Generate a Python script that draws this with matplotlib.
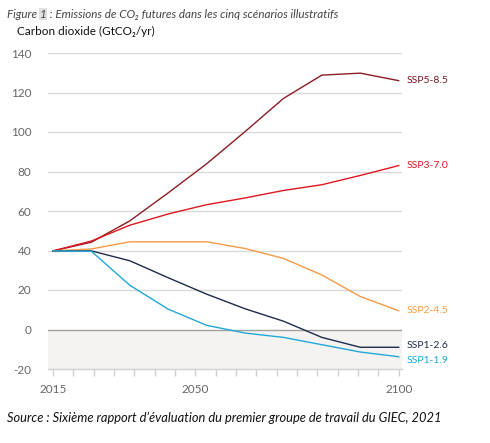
import matplotlib
matplotlib.use("Agg")
import matplotlib.pyplot as plt
import numpy as np

plt.rcParams['font.family'] = ['Lato', 'DejaVu Sans']

# ---- data ----
years = [2015, 2020, 2030, 2040, 2050, 2060, 2070, 2080, 2090, 2100]
ssp585 = [39.8, 44.2, 55.0, 69.2, 83.9, 100.2, 117.0, 128.8, 129.8, 126.0]
ssp370 = [39.8, 44.8, 52.8, 58.5, 63.2, 66.6, 70.4, 73.3, 78.0, 83.0]
ssp245 = [39.8, 40.8, 44.4, 44.4, 44.4, 41.0, 36.0, 27.6, 16.7, 9.5]
ssp126 = [39.8, 39.8, 34.8, 26.2, 17.9, 10.5, 4.2, -4.0, -9.0, -9.0]
ssp119 = [39.8, 39.6, 22.4, 10.3, 2.1, -1.8, -4.0, -7.7, -11.4, -13.8]
series_names = ["SSP5-8.5", "SSP3-7.0", "SSP2-4.5", "SSP1-2.6", "SSP1-1.9"]
xtick_labels = [2015, 2050, 2100]
yticks = [-20, 0, 20, 40, 60, 80, 100, 120, 140]

colors = ["#8c1c24", "#e0161e", "#f59a45", "#1f2b4d", "#20a8d8"]
label_colors = ["#7a1424", "#e0161e", "#f59a45", "#1f2b4d", "#20a8d8"]
label_dy = [0, 0, 0, 1, -3]  # points offset for end labels

fig = plt.figure(figsize=(4.90, 4.43), dpi=100)
ax = fig.add_axes([48/490, 1-369/443, (402-48)/490, (369-53)/443])

# vertices are drawn evenly spaced between first and last year (as in the reference)
n = len(years)
xpos = years[0] + np.arange(n) * (years[-1] - years[0]) / (n - 1)

ax.set_xlim(2015 - 5/4.067, 2100 + 3.3/4.067)
ax.set_ylim(-20, 140)

# shaded negative region
ax.axhspan(-20, 0, color="#f4f3f1", zorder=0, lw=0)
for yv in yticks[2:]:
    ax.axhline(yv, color="#d9d9d9", lw=1.0, zorder=1)
ax.axhline(0, color="#a0a0a0", lw=1.0, zorder=1)

data = [ssp585, ssp370, ssp245, ssp126, ssp119]
for vals, c, lc, name, dy in zip(data, colors, label_colors, series_names, label_dy):
    ax.plot(xpos, vals, color=c, lw=1.0, zorder=3)
    ax.annotate(name, xy=(xpos[-1], vals[-1]), xytext=(6, dy), textcoords="offset points",
                ha="left", va="center", color=lc, fontsize=7.5, annotation_clip=False)

for s in ["top", "left", "right"]:
    ax.spines[s].set_visible(False)
ax.spines["bottom"].set_color("#d0d0d0")
ax.spines["bottom"].set_linewidth(1.0)

ax.set_xticks(xtick_labels)
ax.set_xticklabels([str(v) for v in xtick_labels])
ax.set_xticks(np.arange(2015, 2101, 5), minor=True)
ax.tick_params(axis="x", which="both", direction="out", length=5, width=1.0,
               color="#d0d0d0", labelcolor="#666666", labelsize=8.5, pad=6)
ax.set_yticks(yticks)
ax.set_yticklabels([str(v) for v in yticks])
ax.tick_params(axis="y", length=0, labelcolor="#666666", labelsize=8.5, pad=12)

# axis title
fig.text(17/490, 1-31/443, "Carbon dioxide (GtCO\u2082/yr)", fontsize=8.5, color="#111111",
         ha="left", va="center")

# figure title with highlighted number
fig.canvas.draw()
r = fig.canvas.get_renderer()
ty = 1 - 14/443
tfs = 8.35
t1 = fig.text(7/490, ty, "Figure ", fontsize=tfs, style="italic", color="#444444", va="center")
bb = t1.get_window_extent(r)
t2 = fig.text(bb.x1/490, ty, "1", fontsize=tfs, style="italic", color="#444444", va="center",
              bbox=dict(facecolor="#e0e0e0", edgecolor="none", pad=0.5))
bb2 = t2.get_window_extent(r)
fig.text(bb2.x1/490, ty, " : Emissions de CO\u2082 futures dans les cinq sc\u00e9narios illustratifs",
         fontsize=tfs, style="italic", color="#444444", va="center")

fig.text(7/490, 1-418/443,
         "Source : Sixi\u00e8me rapport d\u2019\u00e9valuation du premier groupe de travail du GIEC, 2021",
         fontsize=9.3, style="italic", color="#111111", va="center")

fig.savefig("out.png", dpi=100)
